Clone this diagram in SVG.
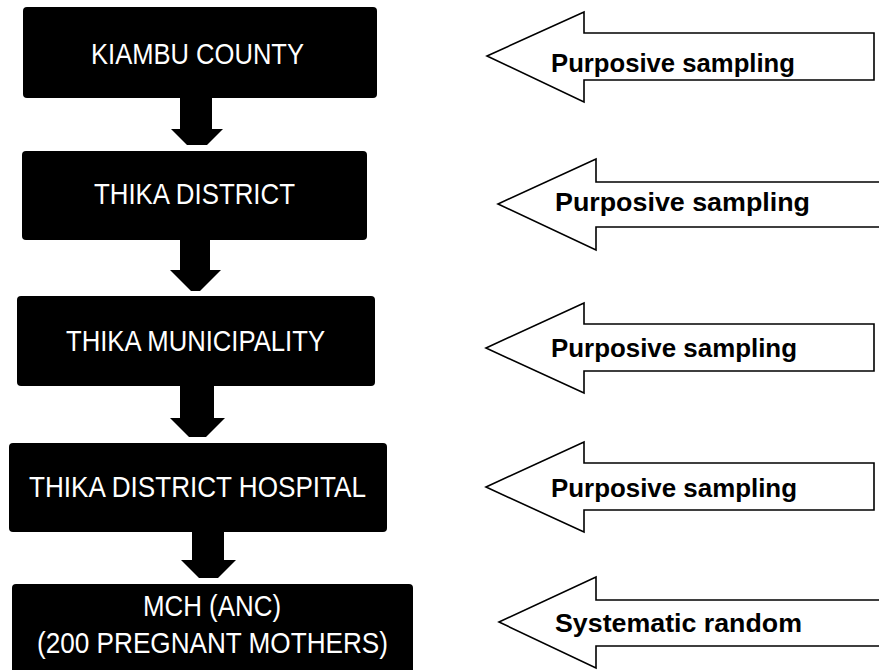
<svg xmlns="http://www.w3.org/2000/svg" width="879" height="670" viewBox="0 0 879 670">
<style>
.box{fill:#000;}
.bt{fill:#fff;font-family:"Liberation Sans",Arial,sans-serif;font-size:30px;}
.sa{fill:#fff;stroke:#000;stroke-width:1.6;stroke-linejoin:miter;}
.st{fill:#000;font-family:"Liberation Sans",Arial,sans-serif;font-size:26px;font-weight:bold;}
.da{fill:#000;}
</style>
<rect width="879" height="670" fill="#fff"/>
<g id="connectors">
<polygon class="da" points="180,96 212,96 212,129 223,129 207,145 187,145 171,129 180,129"/>
<polygon class="da" points="180,239 210,239 210,270 221,270 200,291 191,291 170,270 180,270"/>
<polygon class="da" points="180,385 214,385 214,418 225,418 206,437 189,437 170,418 180,418"/>
<polygon class="da" points="192,531 224,531 224,560 236,560 218,578 199,578 181,560 192,560"/>
</g>
<g id="n1"><rect class="box" x="23" y="7" width="354" height="91" rx="4"/><text class="bt" x="91" y="64" textLength="213" lengthAdjust="spacingAndGlyphs">KIAMBU COUNTY</text></g>
<g id="n2"><rect class="box" x="22" y="151" width="345" height="89" rx="4"/><text class="bt" x="94" y="204" textLength="201" lengthAdjust="spacingAndGlyphs">THIKA DISTRICT</text></g>
<g id="n3"><rect class="box" x="17" y="296" width="358" height="90" rx="4"/><text class="bt" x="66" y="351" textLength="259" lengthAdjust="spacingAndGlyphs">THIKA MUNICIPALITY</text></g>
<g id="n4"><rect class="box" x="9" y="443" width="378" height="89" rx="4"/><text class="bt" x="29" y="497" textLength="337" lengthAdjust="spacingAndGlyphs">THIKA DISTRICT HOSPITAL</text></g>
<g id="n5"><rect class="box" x="12" y="584" width="401" height="95" rx="4"/><text class="bt" x="143" y="616" textLength="138" lengthAdjust="spacingAndGlyphs">MCH (ANC)</text><text class="bt" x="37" y="653" textLength="351" lengthAdjust="spacingAndGlyphs">(200 PREGNANT MOTHERS)</text></g>
<g id="s1"><polygon class="sa" points="487,56 584,12 584,33 874,33 874,80 584,80 584,102"/><text class="st" x="551" y="72" textLength="244" lengthAdjust="spacingAndGlyphs">Purposive sampling</text></g>
<g id="s2"><polygon class="sa" points="498,204 596,159 596,182 885,182 885,227 596,227 596,250"/><text class="st" x="555" y="211" textLength="255" lengthAdjust="spacingAndGlyphs">Purposive sampling</text></g>
<g id="s3"><polygon class="sa" points="486,348 584,303 584,324 874,324 874,371 584,371 584,393"/><text class="st" x="551" y="357" textLength="246" lengthAdjust="spacingAndGlyphs">Purposive sampling</text></g>
<g id="s4"><polygon class="sa" points="486,487 584,442 584,463 874,463 874,510 584,510 584,532"/><text class="st" x="551" y="497" textLength="246" lengthAdjust="spacingAndGlyphs">Purposive sampling</text></g>
<g id="s5"><polygon class="sa" points="499,622 596,577 596,600 885,600 885,646 596,646 596,668"/><text class="st" x="555" y="632" textLength="247" lengthAdjust="spacingAndGlyphs">Systematic random</text></g>
</svg>
